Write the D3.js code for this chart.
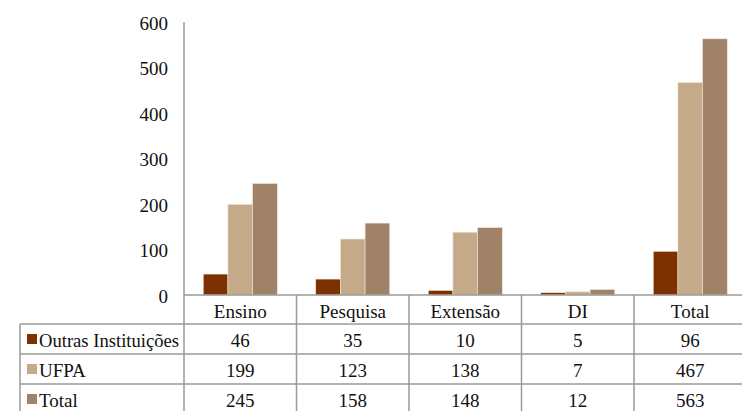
<!DOCTYPE html>
<html>
<head>
<meta charset="utf-8">
<script src="https://cdn.jsdelivr.net/npm/d3@7"></script>
<style>
  html, body { margin: 0; padding: 0; background: #fff; }
  svg { display: block; }
</style>
</head>
<body>
<svg id="chart" width="742" height="411"></svg>
<script>
// Categories along the x axis
const categories = ["Ensino", "Pesquisa", "Extensão", "DI", "Total"];
// Series names (legend / table rows)
const seriesNames = ["Outras Instituições", "UFPA", "Total"];
// Series values per category
const outrasValues = [46, 35, 10, 5, 96];
const ufpaValues = [199, 123, 138, 7, 467];
const totalValues = [245, 158, 148, 12, 563];
// Y axis tick labels
const yTicks = [0, 100, 200, 300, 400, 500, 600];

const seriesValues = [outrasValues, ufpaValues, totalValues];
const colors = ["#7d3100", "#c4aa88", "#a08268"];
const gridColor = "#9a9a9a";
const FONT = "'Liberation Serif', Tinos, 'Times New Roman', Times, 'DejaVu Serif', serif";
const FONT_SIZE = "19px";

const svg = d3.select("#chart");
const W = 742;

const plotLeft = 184, plotRight = 746.5;
const yZero = 295, yTop = 22;
const tableLeft = 20;
const rowH = 30;
const headerBottom = 324;
const labelColWidth = 140; // space available for series names in the first column

const x = d3.scaleBand().domain(categories).range([plotLeft, plotRight]).padding(0);
const xs = d3.scaleBand().domain(d3.range(seriesNames.length))
  .range([0, x.bandwidth()]).paddingInner(0).paddingOuter(0.78);
const y = d3.scaleLinear().domain([0, 600]).range([yZero, yTop]);

function styleText(sel) {
  sel.style("font-family", FONT).style("font-size", FONT_SIZE).style("fill", "#111");
}

// Y axis: labels only, no tick marks
const yAxis = d3.axisLeft(y).tickValues(yTicks).tickSize(0).tickPadding(16).tickFormat(d3.format("d"));
const gy = svg.append("g").attr("transform", `translate(${plotLeft},0)`).call(yAxis);
gy.select(".domain").remove();
gy.selectAll("text").attr("dy", "0.38em").call(styleText);

// Bars
const groups = svg.append("g").selectAll("g")
  .data(seriesValues).join("g")
  .attr("fill", (d, i) => colors[i]);
groups.selectAll("rect")
  .data((vals, si) => vals.map((v, ci) => ({ v, ci, si })))
  .join("rect")
  .attr("x", d => x(categories[d.ci]) + xs(d.si))
  .attr("width", xs.bandwidth())
  .attr("y", d => y(d.v))
  .attr("height", d => yZero - y(d.v))
  .attr("stroke", "#efe5d6")
  .attr("stroke-width", 0.6);

// Grid / table lines
const lines = svg.append("g").attr("stroke", gridColor).attr("stroke-width", 1.5).attr("fill", "none");
// Vertical axis line down through the table
lines.append("line").attr("x1", plotLeft).attr("x2", plotLeft).attr("y1", yTop).attr("y2", 411);
// Zero line / top of the category header
lines.append("line").attr("x1", plotLeft).attr("x2", W).attr("y1", yZero).attr("y2", yZero);
// Category dividers
categories.slice(1).forEach(c => {
  lines.append("line").attr("x1", x(c)).attr("x2", x(c)).attr("y1", yZero).attr("y2", 411);
});
lines.append("line").attr("x1", plotRight).attr("x2", plotRight).attr("y1", yZero).attr("y2", 411);
// Left border of the table
lines.append("line").attr("x1", tableLeft).attr("x2", tableLeft).attr("y1", headerBottom).attr("y2", 411);
// Row separators
d3.range(seriesNames.length + 1).forEach(i => {
  const yy = headerBottom + i * rowH;
  lines.append("line").attr("x1", tableLeft).attr("x2", W).attr("y1", yy).attr("y2", yy);
});

// Category header labels
svg.append("g").selectAll("text").data(categories).join("text")
  .attr("x", d => x(d) + x.bandwidth() / 2)
  .attr("y", (yZero + headerBottom) / 2 + 1.5)
  .attr("text-anchor", "middle")
  .attr("dy", "0.35em")
  .text(d => d)
  .call(styleText);

// Table rows: legend swatch, series name, values
seriesNames.forEach((name, si) => {
  const cy = headerBottom + si * rowH + rowH / 2;
  svg.append("rect")
    .attr("x", 27).attr("y", cy - 5).attr("width", 10).attr("height", 10)
    .attr("fill", colors[si]);
  const label = svg.append("text")
    .attr("x", 39).attr("y", cy + 1)
    .attr("dy", "0.35em")
    .text(name)
    .call(styleText);
  // Keep long names inside the first column
  if (label.node().getComputedTextLength() > labelColWidth) {
    label.attr("textLength", labelColWidth).attr("lengthAdjust", "spacingAndGlyphs");
  }
  svg.append("g").selectAll("text").data(seriesValues[si]).join("text")
    .attr("x", (d, ci) => x(categories[ci]) + x.bandwidth() / 2)
    .attr("y", cy + 1)
    .attr("text-anchor", "middle")
    .attr("dy", "0.35em")
    .text(d => d)
    .call(styleText);
});
</script>
</body>
</html>
